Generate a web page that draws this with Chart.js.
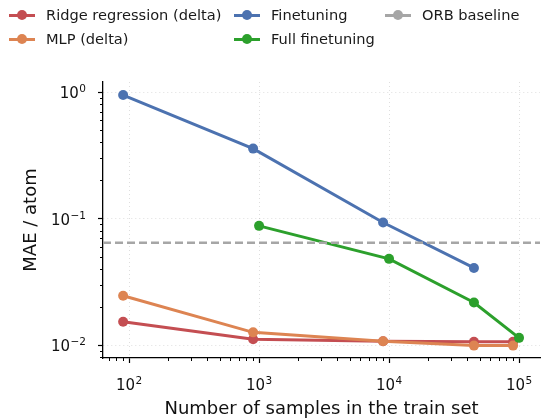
<!DOCTYPE html>
<html>
<head>
<meta charset="utf-8">
<script src="https://cdn.jsdelivr.net/npm/chart.js@4.4.1/dist/chart.umd.min.js"></script>
<style>
    html, body { margin: 0; padding: 0; background: #fff; }
    #wrap { position: relative; width: 552px; height: 418px; }
    #legend { position: absolute; left: 0; top: 0; font-family: 'DejaVu Sans'; font-size: 14.6px; color: #1a1a1a; }
    .item { position: absolute; height: 20px; line-height: 20px; white-space: nowrap; }
    .sw { position: absolute; left: 0; top: 8.5px; width: 26px; height: 3px; }
    .sw i { position: absolute; left: 8px; top: -3.5px; width: 10px; height: 10px; border-radius: 50%; }
    .item span { position: absolute; left: 37px; top: 0; }
</style>
</head>
<body>
<div id="wrap">
    <canvas id="maeChart" width="552" height="418"></canvas>
    <div id="legend"></div>
</div>
<script>
// Data
const ridgeX = [90, 900, 9000, 45000, 90000];
const ridgeMAE = [0.0153, 0.0111, 0.0107, 0.0106, 0.0106];
const mlpX = [90, 900, 9000, 45000, 90000];
const mlpMAE = [0.0245, 0.0126, 0.0107, 0.0099, 0.0099];
const finetuneX = [90, 900, 9000, 45000];
const finetuneMAE = [0.946, 0.357, 0.093, 0.0407];
const fullX = [1000, 10000, 45000, 100000];
const fullMAE = [0.0875, 0.048, 0.0217, 0.0114];
const orbMAE = 0.0645;
const xLimits = [63, 145000];
const yLimits = [0.0079, 1.2];

const seriesNames = ['Ridge regression (delta)', 'MLP (delta)', 'Finetuning', 'Full finetuning', 'ORB baseline'];
const seriesColors = ['#c44e52', '#dd8452', '#4c72b0', '#2ca02c', '#a6a6a6'];

function toPoints(xs, ys) {
    return xs.map((x, i) => ({ x: x, y: ys[i] }));
}

// 1..9 x 10^n ticks inside the range, powers of ten flagged major
function logTicks(scale) {
    const ticks = [];
    const lo = Math.floor(Math.log10(scale.min));
    const hi = Math.ceil(Math.log10(scale.max));
    for (let e = lo; e <= hi; e++) {
        for (let k = 1; k <= 9; k++) {
            const v = k * Math.pow(10, e);
            if (v >= scale.min && v <= scale.max) ticks.push({ value: v, major: k === 1 });
        }
    }
    scale.ticks = ticks;
}

function lineSet(i, xs, ys) {
    return {
        label: seriesNames[i],
        data: toPoints(xs, ys),
        borderColor: seriesColors[i],
        backgroundColor: seriesColors[i],
        borderWidth: 3,
        pointRadius: 5,
        pointBorderWidth: 0,
        order: 5 - i
    };
}

// draws "10" with a raised exponent, anchored at (x, baseline)
function drawPow(ctx, exp, x, baseline, align, raise) {
    const base = '10';
    const sup = String(exp).replace('-', '\u2212');
    ctx.font = '15px "DejaVu Sans"';
    const wb = ctx.measureText(base).width;
    ctx.font = '10.5px "DejaVu Sans"';
    const ws = ctx.measureText(sup).width;
    const total = wb + ws + 0.5;
    let start = align === 'right' ? x - total : x - total / 2;
    ctx.textAlign = 'left';
    ctx.textBaseline = 'alphabetic';
    ctx.font = '15px "DejaVu Sans"';
    ctx.fillText(base, start, baseline);
    ctx.font = '10.5px "DejaVu Sans"';
    ctx.fillText(sup, start + wb + 0.5, baseline - raise);
}

// minor tick marks and power-of-ten labels on both axes
const logAxisDecor = {
    id: 'logAxisDecor',
    afterDraw(chart) {
        const ctx = chart.ctx;
        const area = chart.chartArea;
        const xs = chart.scales.x;
        const ys = chart.scales.y;
        ctx.save();
        ctx.strokeStyle = '#000';
        ctx.lineWidth = 1;
        ctx.fillStyle = '#111';
        xs.ticks.forEach(t => {
            const px = xs.getPixelForValue(t.value);
            if (t.major) {
                drawPow(ctx, Math.round(Math.log10(t.value)), px, area.bottom + 32, 'center', 6);
                return;
            }
            const lx = Math.round(px) + 0.5;
            ctx.beginPath();
            ctx.moveTo(lx, area.bottom);
            ctx.lineTo(lx, area.bottom + 3);
            ctx.stroke();
        });
        ys.ticks.forEach(t => {
            const py = ys.getPixelForValue(t.value);
            if (t.major) {
                drawPow(ctx, Math.round(Math.log10(t.value)), area.left - 17, py + 6, 'right', 6);
                return;
            }
            const ly = Math.round(py) + 0.5;
            ctx.beginPath();
            ctx.moveTo(area.left - 3, ly);
            ctx.lineTo(area.left, ly);
            ctx.stroke();
        });
        ctx.restore();
    }
};

function axisOptions(limits, titleText, isX) {
    return {
        type: 'logarithmic',
        min: limits[0],
        max: limits[1],
        afterBuildTicks: logTicks,
        afterFit(scale) {
            if (isX) scale.height = 60; else scale.width = 103;
        },
        border: { display: true, color: '#000', width: 1.3, dash: [1, 3] },
        grid: {
            color: c => (c.tick && c.tick.major ? 'rgba(0,0,0,0.13)' : 'transparent'),
            lineWidth: 1,
            drawTicks: true,
            tickLength: 5,
            tickColor: c => (c.tick && c.tick.major ? '#000' : 'transparent'),
            tickWidth: 1.2
        },
        ticks: { display: false, autoSkip: false },
        title: {
            display: true,
            text: titleText,
            color: '#111',
            font: { family: 'DejaVu Sans', size: 18, lineHeight: 1 },
            padding: isX ? { top: 0, bottom: 0 } : { top: 22, bottom: 0 }
        }
    };
}

document.addEventListener('DOMContentLoaded', () => {
    const ctx = document.getElementById('maeChart').getContext('2d');

    const data = {
        datasets: [
            lineSet(0, ridgeX, ridgeMAE),
            lineSet(1, mlpX, mlpMAE),
            lineSet(2, finetuneX, finetuneMAE),
            lineSet(3, fullX, fullMAE),
            {
                label: seriesNames[4],
                data: toPoints(xLimits, [orbMAE, orbMAE]),
                borderColor: seriesColors[4],
                borderWidth: 2.5,
                borderDash: [8, 4],
                pointRadius: 0,
                order: 0
            }
        ]
    };

    new Chart(ctx, {
        type: 'line',
        data: data,
        options: {
            responsive: false,
            animation: false,
            layout: { padding: { top: 82, right: 12, left: 0, bottom: 0 } },
            plugins: {
                legend: { display: false },
                tooltip: { enabled: false }
            },
            scales: {
                x: axisOptions(xLimits, 'Number of samples in the train set', true),
                y: axisOptions(yLimits, 'MAE / atom', false)
            }
        },
        plugins: [logAxisDecor]
    });

    // legend laid out in three columns like the original
    const legendSlots = [[9, 5], [9, 29], [234, 5], [234, 29], [385, 5]];
    const legend = document.getElementById('legend');
    seriesNames.forEach((name, i) => {
        const item = document.createElement('div');
        item.className = 'item';
        item.style.left = legendSlots[i][0] + 'px';
        item.style.top = legendSlots[i][1] + 'px';
        item.innerHTML = '<div class="sw" style="background:' + seriesColors[i] + '"><i style="background:' +
            seriesColors[i] + '"></i></div><span>' + name + '</span>';
        legend.appendChild(item);
    });
});
</script>
</body>
</html>
